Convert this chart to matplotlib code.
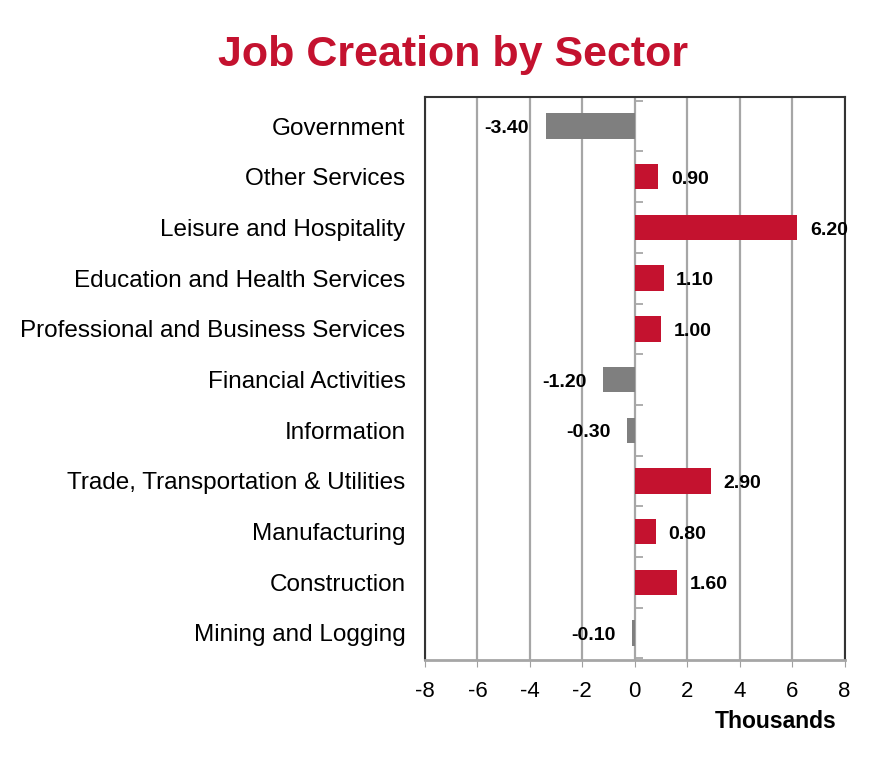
"""Horizontal bar chart of job creation by sector."""

import matplotlib

matplotlib.use("Agg")
import matplotlib.pyplot as plt
import numpy as np

SECTORS = [
    "Government",
    "Other Services",
    "Leisure and Hospitality",
    "Education and Health Services",
    "Professional and Business Services",
    "Financial Activities",
    "Information",
    "Trade, Transportation & Utilities",
    "Manufacturing",
    "Construction",
    "Mining and Logging",
]
CHANGE = [-3.40, 0.90, 6.20, 1.10, 1.00, -1.20, -0.30, 2.90, 0.80, 1.60, -0.10]
X_TICKS = [-8, -6, -4, -2, 0, 2, 4, 6, 8]

RED = "#C4122F"
GREY = "#7F7F7F"

plt.rcParams["font.family"] = ["Liberation Sans", "DejaVu Sans"]


def main() -> None:
    fig = plt.figure(figsize=(8.78, 7.68), dpi=100)
    ax = fig.add_axes([0.484, 0.141, 0.478, 0.733])

    y = np.arange(len(SECTORS))
    colors = [RED if v >= 0 else GREY for v in CHANGE]
    ax.barh(y, CHANGE, height=0.5, color=colors, zorder=3)

    for yi, v in zip(y, CHANGE):
        if v >= 0:
            ax.annotate(f"{v:.2f}", (v, yi), xytext=(9, -2), textcoords="offset points",
                        ha="left", va="center", fontsize=14, fontweight="bold")
        else:
            ax.annotate(f"{v:.2f}", (v, yi), xytext=(-12, -2), textcoords="offset points",
                        ha="right", va="center", fontsize=14, fontweight="bold")

    ax.set_xlim(-8, 8)
    ax.set_ylim(len(SECTORS) - 0.47, -0.58)
    ax.set_xticks(X_TICKS)
    ax.set_xticklabels([str(t) for t in X_TICKS], fontsize=16)
    ax.set_yticks(y)
    ax.set_yticklabels(SECTORS, fontsize=17.5)
    ax.tick_params(axis="y", length=0, pad=14)
    ax.tick_params(axis="x", length=5, color="#A0A0A0", pad=10)

    ax.grid(axis="x", color="#A6A6A6", linewidth=1.6, zorder=0)
    ax.set_axisbelow(True)
    for side in ("left", "right", "top"):
        ax.spines[side].set_color("#333333")
        ax.spines[side].set_linewidth(1.5)
    ax.spines["bottom"].set_color("#A6A6A6")
    ax.spines["bottom"].set_linewidth(2)

    # category separators on the zero line
    zero_axis = ax.secondary_yaxis(0.5)
    zero_axis.spines["right"].set_visible(False)
    zero_axis.spines["left"].set_visible(False)
    zero_axis.set_yticks(np.arange(len(SECTORS) + 1) - 0.5)
    zero_axis.set_yticklabels([])
    zero_axis.tick_params(axis="y", direction="out", length=6, color="#A0A0A0", width=1.2)

    ax.text(0.98, -0.11, "Thousands", transform=ax.transAxes, ha="right", va="center",
            fontsize=16.5, fontweight="bold")
    fig.text(0.516, 0.928, "Job Creation by Sector", ha="center", va="center",
             fontsize=31, fontweight="bold", color=RED)

    fig.savefig("out.png", dpi=100)


if __name__ == "__main__":
    main()
